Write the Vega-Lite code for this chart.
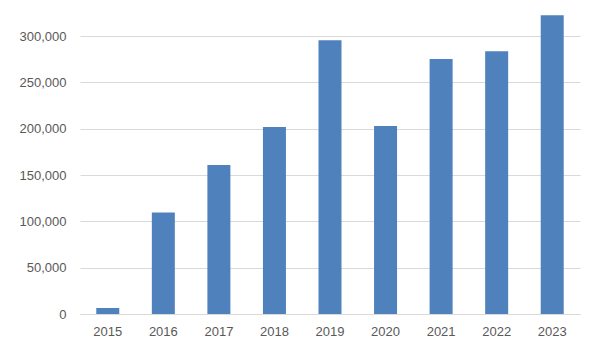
{
  "$schema": "https://vega.github.io/schema/vega-lite/v6.json",
  "autosize": {"type": "none"},
  "padding": {"left": 80, "top": 13, "right": 13, "bottom": 37},
  "width": 500,
  "height": 301,
  "background": "white",
  "config": {"view": {"stroke": null}, "font": "Liberation Sans"},
  "data": {"values": [
    {"year": "2015", "value": 6500},
    {"year": "2016", "value": 109600},
    {"year": "2017", "value": 160800},
    {"year": "2018", "value": 201800},
    {"year": "2019", "value": 295700},
    {"year": "2020", "value": 202900},
    {"year": "2021", "value": 275200},
    {"year": "2022", "value": 283800},
    {"year": "2023", "value": 322700}
  ]},
  "mark": {"type": "bar", "color": "#4f81bd", "size": 23},
  "encoding": {
    "x": {"field": "year", "type": "nominal", "title": null,
      "scale": {"paddingInner": 0.58, "paddingOuter": 0.29},
      "axis": {"labelAngle": 0, "ticks": false, "domainColor": "#d9d9d9", "labelColor": "#595959", "labelFontSize": 13, "labelPadding": 11}},
    "y": {"field": "value", "type": "quantitative", "title": null,
      "scale": {"domain": [0, 325000], "nice": false},
      "axis": {"values": [0, 50000, 100000, 150000, 200000, 250000, 300000], "format": ",.0f", "ticks": false, "domain": false, "gridColor": "#d9d9d9", "labelColor": "#595959", "labelFontSize": 13, "labelPadding": 14}}
  }
}
